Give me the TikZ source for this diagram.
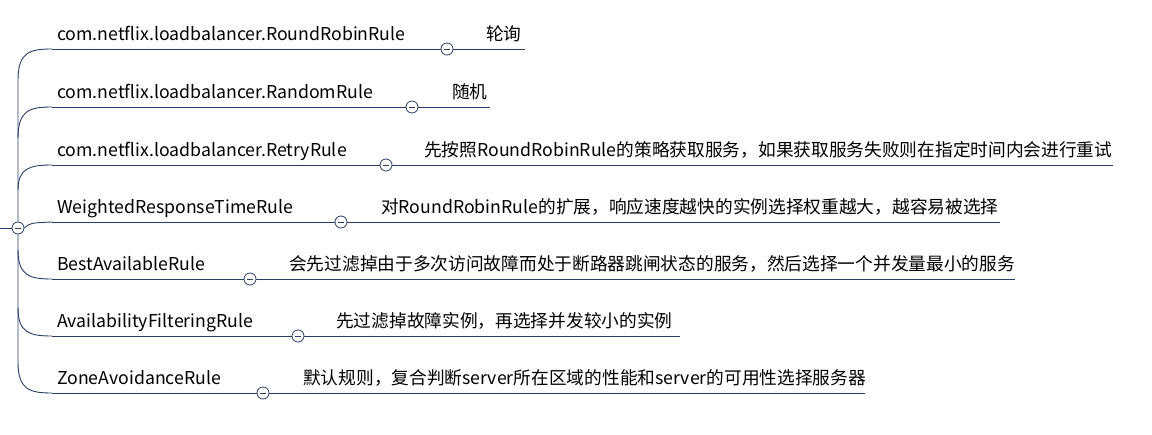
\documentclass[tikz,border=0pt]{standalone}
\usepackage{fontspec}
\setmainfont{Noto Sans CJK SC}
\definecolor{ln}{HTML}{2B3D66}
\begin{document}
\begin{tikzpicture}[x=1pt,y=-1pt,
  lbl/.style={anchor=base west,inner sep=0pt,font=\fontsize{17.7}{20}\selectfont},
  tog/.style={circle,draw=ln,fill=white,line width=0.8pt,minimum size=12pt,inner sep=0pt,
    path picture={\draw[ln,line width=0.9pt] ([xshift=-3pt]path picture bounding box.center) -- ([xshift=3pt]path picture bounding box.center);}},
  br/.style={draw=ln,line width=0.9pt}]
\useasboundingbox (0,0) rectangle (1152,435);
\coordinate (rl) at (0,228);
\node[tog] (root) at (18,228) {};
\draw[br] (rl) -- (root);
\foreach \y/\cx/\ex/\dx/\name/\desc in {
 49/447/525/486/com.netflix.loadbalancer.RoundRobinRule/轮询,
 107/412/490/452/com.netflix.loadbalancer.RandomRule/随机,
 165/386/1113/424/com.netflix.loadbalancer.RetryRule/先按照RoundRobinRule的策略获取服务，如果获取服务失败则在指定时间内会进行重试,
 222/341/1000/381/WeightedResponseTimeRule/对RoundRobinRule的扩展，响应速度越快的实例选择权重越大，越容易被选择,
 279/250/1015/289/BestAvailableRule/会先过滤掉由于多次访问故障而处于断路器跳闸状态的服务，然后选择一个并发量最小的服务,
 336/298/680/336/AvailabilityFilteringRule/先过滤掉故障实例，再选择并发较小的实例,
 393/263/865/303/ZoneAvoidanceRule/默认规则，复合判断server所在区域的性能和server的可用性选择服务器}{
  \coordinate (s\y) at (52,\y);
  \coordinate (e\y) at (\ex,\y);
  \node[tog] (c\y) at (\cx,\y) {};
  \node[lbl] (n\y) at (57,\y-8) {\name};
  \node[lbl] (d\y) at (\dx,\y-8) {\desc};
  \draw[br] (s\y) -- (c\y);
  \draw[br] (c\y) -- (e\y);
}
\draw[br] (root.north) -- (18,80) .. controls (18,52) and (30,49) .. (s49);
\draw[br] (18,138) .. controls (18,110) and (30,107) .. (s107);
\draw[br] (18,190) .. controls (18,168) and (30,165) .. (s165);
\draw[br] (root.east) .. controls (30,223) .. (s222);
\draw[br] (root.south) -- (18,362) .. controls (18,390) and (30,393) .. (s393);
\draw[br] (18,250) .. controls (18,276) and (30,279) .. (s279);
\draw[br] (18,308) .. controls (18,333) and (30,336) .. (s336);
\end{tikzpicture}
\end{document}
